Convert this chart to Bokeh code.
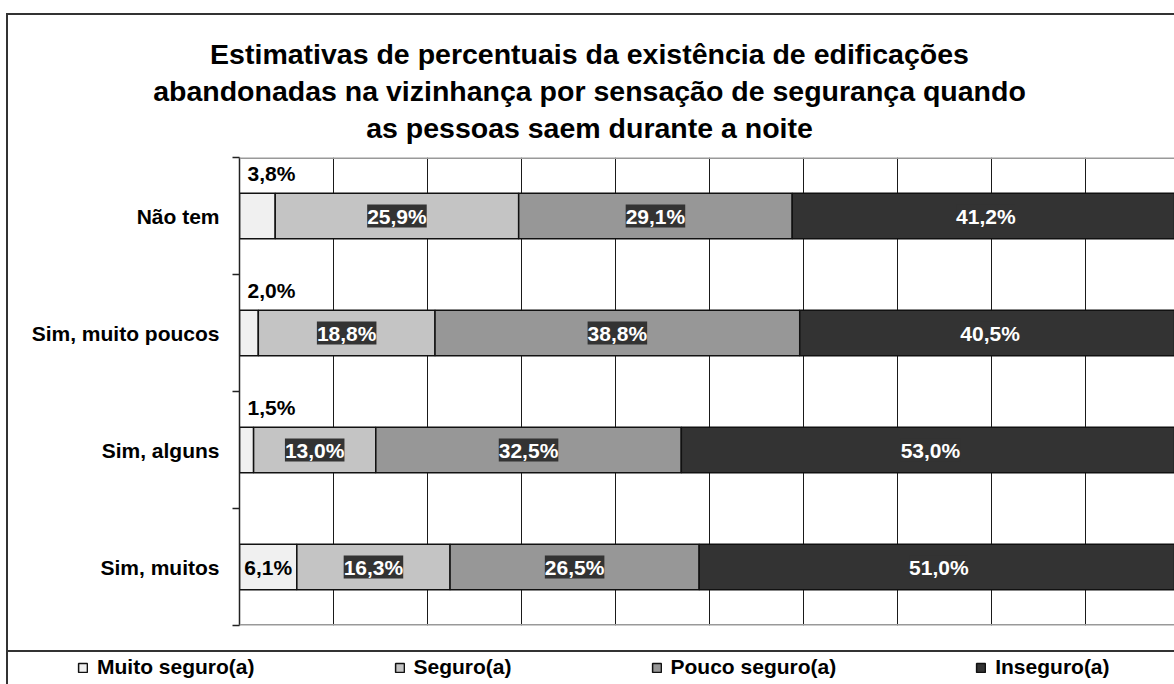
from bokeh.plotting import figure
from bokeh.layouts import column
from bokeh.models import (ColumnDataSource, Range1d, FixedTicker, SingleIntervalTicker,
                          LabelSet, Label, Legend, LegendItem, InlineStyleSheet, Span)
from bokeh.core.properties import value
from bokeh.embed import file_html
from bokeh.resources import INLINE

# ---------------- data ----------------
categories = ["Não tem", "Sim, muito poucos", "Sim, alguns", "Sim, muitos"]
series_names = ["Muito seguro(a)", "Seguro(a)", "Pouco seguro(a)", "Inseguro(a)"]
muito_seguro = [3.8, 2.0, 1.5, 6.1]
seguro = [25.9, 18.8, 13.0, 16.3]
pouco_seguro = [29.1, 38.8, 32.5, 26.5]
inseguro = [41.2, 40.5, 53.0, 51.0]
title_lines = ["Estimativas de percentuais da existência de edificações",
               "abandonadas na vizinhança por sensação de segurança quando",
               "as pessoas saem durante a noite"]

colors = ["#f0f0f0", "#c4c4c4", "#979797", "#333333"]
FONT = "Liberation Sans"

# ---------------- layout (page pixels) ----------------
W = 1174
TOP_H, CHART_H, LEG_H = 152, 498, 34       # stacked: 0-152, 152-650, 650-684
FL, FT, FB = 239, 157, 625                 # plot frame on the page
PX10 = 94.0                                # pixels per 10 %
x_end = (W - FL) / PX10 * 10

n = len(categories)
ypos = [n - 0.5 - i for i in range(n)]
series = [muito_seguro, seguro, pouco_seguro, inseguro]
keys = ["s0", "s1", "s2", "s3"]

def frame_css(top_line, top_px):
    extra = f"border-top: 2px solid #333; top: {top_px}px;" if top_line else "top: 0;"
    return InlineStyleSheet(css=f"""
:host {{ position: relative; }}
:host::before {{ content: ""; position: absolute; left: 6px; right: 0; bottom: 0; {extra}
  border-left: 2px solid #333; pointer-events: none; z-index: 5; }}
""")

def no_align(f):
    if "frame_align" in f.properties():
        f.frame_align = False
    return f

def bare_figure(h, x_range, y_range):
    f = figure(width=W, height=h, output_backend="svg", toolbar_location=None, tools="",
               x_axis_location=None, y_axis_location=None,
               x_range=x_range, y_range=y_range,
               min_border_left=0, min_border_right=0, min_border_top=0, min_border_bottom=0)
    f.grid.visible = False
    f.outline_line_color = None
    f.background_fill_color = "white"
    f.border_fill_color = "white"
    return no_align(f)

# ---------------- title block ----------------
p_top = bare_figure(TOP_H, Range1d(0, W), Range1d(0, TOP_H))
p_top.stylesheets = [frame_css(True, 13)]
for k, line in enumerate(title_lines):
    mid_y = 53 + 37 * k
    p_top.add_layout(Label(x=589, y=TOP_H - mid_y, x_units="screen", y_units="screen",
                           text=line, text_align="center", text_baseline="middle",
                           text_font=FONT, text_font_style="bold", text_font_size="28.5px",
                           text_color="black"))

# ---------------- chart ----------------
p = figure(width=W, height=CHART_H, output_backend="svg", toolbar_location=None, tools="",
           x_range=Range1d(0, x_end), y_range=Range1d(0, n),
           min_border_left=FL, min_border_top=FT - TOP_H,
           min_border_bottom=TOP_H + CHART_H - FB, min_border_right=0)
no_align(p)
p.stylesheets = [frame_css(False, 0)]
p.background_fill_color = "white"
p.border_fill_color = "white"
p.outline_line_color = None
for loc in (0, n):
    p.add_layout(Span(location=loc, dimension="width", line_color="#999999", line_width=3))

p.xaxis.visible = False
p.xgrid.ticker = SingleIntervalTicker(interval=10)
p.xgrid.grid_line_color = "#1a1a1a"
p.xgrid.grid_line_width = 1
p.ygrid.visible = False

yax = p.yaxis[0]
yax.ticker = FixedTicker(ticks=ypos, minor_ticks=[float(i) for i in range(n + 1)])
yax.major_label_overrides = {y: c for y, c in zip(ypos, categories)}
yax.major_tick_line_color = None
yax.major_tick_out = 0
yax.major_tick_in = 0
yax.minor_tick_out = 7
yax.minor_tick_in = 0
yax.minor_tick_line_color = "#222222"
yax.minor_tick_line_width = 1.5
yax.axis_line_color = "#222222"
yax.axis_line_width = 1.5
yax.major_label_standoff = 13
yax.major_label_text_font = FONT
yax.major_label_text_font_style = "bold"
yax.major_label_text_font_size = "21px"
yax.major_label_text_color = "black"

src = ColumnDataSource(dict(y=ypos, **{k: s for k, s in zip(keys, series)}))
renderers = p.hbar_stack(keys, y="y", height=0.39, source=src, fill_color=colors,
                         line_color="#111111", line_width=1.5)

in_x, in_y, in_t = [], [], []      # white on dark box
blk_x, blk_y, blk_t = [], [], []   # black text inside the bar
top_x, top_y, top_t = [], [], []   # black text above the bar (tiny segments)
for i, y in enumerate(ypos):
    left = 0.0
    for j, s in enumerate(series):
        v = s[i]
        mid = left + v / 2
        txt = f"{v:.1f}".replace(".", ",") + "%"
        if j == 0:
            if v < 5:
                top_x.append(0.0); top_y.append(y); top_t.append(txt)
            else:
                blk_x.append(mid); blk_y.append(y); blk_t.append(txt)
        else:
            in_x.append(mid); in_y.append(y); in_t.append(txt)
        left += v

common = dict(text_font=value(FONT), text_font_style="bold", text_font_size="21px")
boxed = LabelSet(x="x", y="y", text="t",
                 source=ColumnDataSource(dict(x=in_x, y=in_y, t=in_t)),
                 text_align="center", text_baseline="middle", text_color="white",
                 background_fill_color="#333333", **common)
if "padding" in boxed.properties():
    boxed.padding = 2
p.add_layout(boxed)
p.add_layout(LabelSet(x="x", y="y", text="t",
                      source=ColumnDataSource(dict(x=blk_x, y=blk_y, t=blk_t)),
                      text_align="center", text_baseline="middle", text_color="black",
                      **common))
p.add_layout(LabelSet(x="x", y="y", text="t",
                      source=ColumnDataSource(dict(x=top_x, y=top_y, t=top_t)),
                      text_align="left", text_baseline="middle", text_color="black",
                      x_offset=8, y_offset=43, **common))

# ---------------- legend block ----------------
# swatches come from the same stacked series (hidden renderers in the legend strip)
p_leg = bare_figure(LEG_H, Range1d(1000, 1000 + W), Range1d(1000, 1000 + LEG_H))
p_leg.stylesheets = [frame_css(True, 0)]
proxies = p_leg.hbar_stack(keys, y="y", height=0.39, source=src, fill_color=colors,
                           line_color="#111111", line_width=1.5, visible=False)
legend = Legend(items=[LegendItem(label=nm, renderers=[r]) for nm, r in zip(series_names, proxies)],
                orientation="horizontal", location=(77, 5),
                glyph_width=11, glyph_height=11, label_standoff=9, spacing=139,
                padding=0, margin=0, border_line_color=None, background_fill_alpha=0,
                inactive_fill_alpha=0,
                label_text_font=FONT, label_text_font_style="bold",
                label_text_font_size="21px", label_text_color="black")
p_leg.add_layout(legend, "center")

layout = column(p_top, p, p_leg, spacing=0)
open("out.html", "w").write(file_html(layout, INLINE))
